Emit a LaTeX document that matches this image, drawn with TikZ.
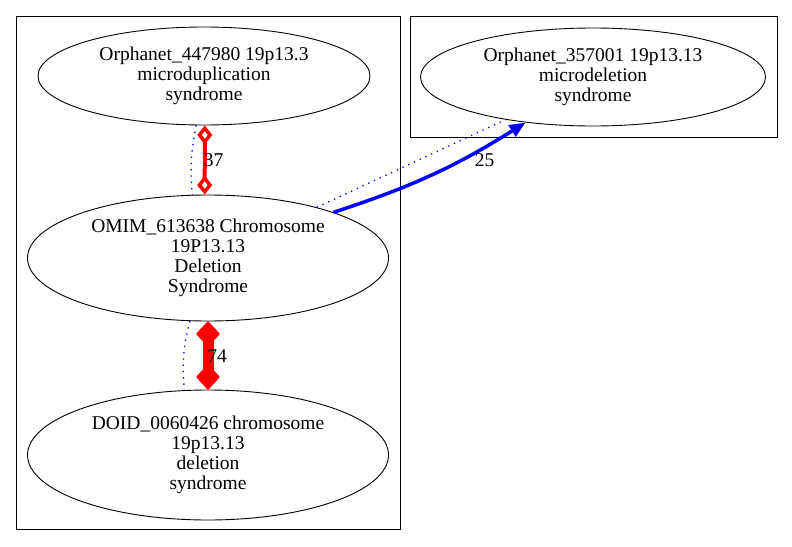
\documentclass[tikz,border=0pt]{standalone}
\usepackage{fontspec}
\setmainfont{Liberation Serif}
\usetikzlibrary{arrows.meta,shapes.geometric}
\begin{document}
\begin{tikzpicture}[x=1pt,y=-1pt,
  every node/.style={font=\fontsize{19.5}{20}\selectfont},
  ell/.style={draw,ellipse,line width=0.9pt,inner sep=0pt,align=center},
  clusterbox/.style={draw,line width=0.9pt},
  dotblue/.style={blue,line width=1.3pt,dash pattern=on 1.3pt off 5pt},
  lbl/.style={inner sep=0pt},
  odia/.tip={Diamond[open,length=19pt,width=15pt,line width=3.5pt]},
  fdia/.tip={Diamond[length=26pt,width=24pt,line width=2pt,round]}]
\useasboundingbox (0,0) rectangle (792,546);
\fill[white] (0,0) rectangle (792,546);
\draw[clusterbox] (16,16) rectangle (400,529);
\draw[clusterbox] (410,16) rectangle (777,137);
\node[ell,minimum width=332pt,minimum height=98pt] (o447) at (204,76) {Orphanet\_447980 19p13.3\\microduplication\\syndrome};
\node[ell,minimum width=361pt,minimum height=126pt] (omim) at (208,258) {OMIM\_613638 Chromosome\\19P13.13\\Deletion\\Syndrome};
\node[ell,minimum width=361pt,minimum height=130pt] (doid) at (208,455) {DOID\_0060426 chromosome\\19p13.13\\deletion\\syndrome};
\node[ell,minimum width=345pt,minimum height=98pt] (o357) at (593,77) {Orphanet\_357001 19p13.13\\microdeletion\\syndrome};
% dotted blue
\draw[dotblue] (o447.261) to[bend right=8] (omim.104);
\draw[dotblue] (omim.254) to[bend right=10] (doid.110);
\draw[dotblue] (omim.25) -- (o357.206);
% red 37
\draw[red,line width=4pt,odia-odia] (o447.271) -- (omim.93);
\node[lbl] (l37) at (213.5,160) {37};
% red 74
\draw[red,line width=11pt,fdia-fdia] (omim.270) -- (doid.90);
\node[lbl] (l74) at (217,356) {74};
% blue arrow 25
\draw[blue,line width=3.5pt,-{Triangle[length=16pt,width=13pt]}] (omim.20) to[bend right=7] (o357.214);
\node[lbl] (l25) at (484.5,160) {25};
\end{tikzpicture}
\end{document}
